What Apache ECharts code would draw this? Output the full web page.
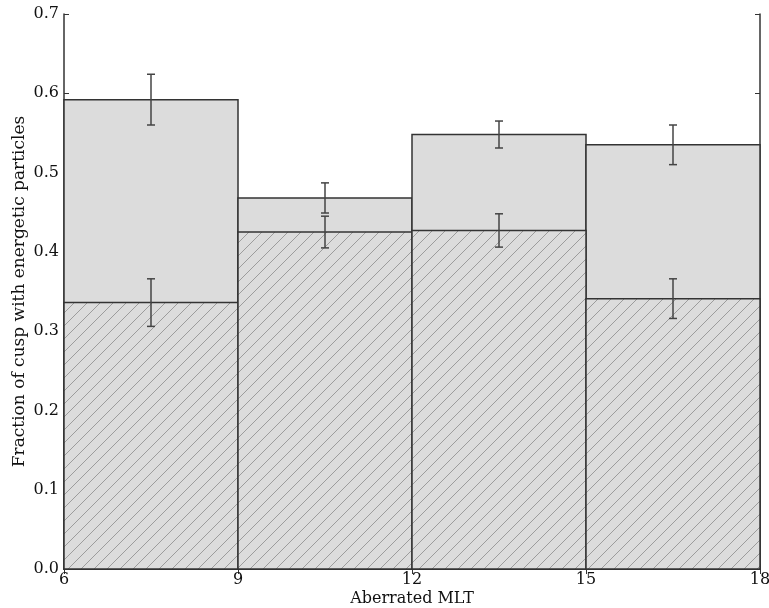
<!DOCTYPE html>
<html>
<head>
<meta charset="utf-8">
<script src="https://cdn.jsdelivr.net/npm/echarts@6/dist/echarts.min.js"></script>
<style>
html,body{margin:0;padding:0;background:#fff;}
#chart{width:769px;height:608px;}
</style>
</head>
<body>
<div id="chart"></div>
<script>
// Data
const binEdges = [6, 9, 12, 15, 18];
const binCenters = [7.5, 10.5, 13.5, 16.5];
const totalFrac = [0.592, 0.468, 0.548, 0.535];
const totalErr = [0.032, 0.019, 0.017, 0.025];
const energeticFrac = [0.336, 0.425, 0.427, 0.341];
const energeticErr = [0.030, 0.020, 0.021, 0.025];
const xTicks = [6, 9, 12, 15, 18];
const yTicks = [0.0, 0.1, 0.2, 0.3, 0.4, 0.5, 0.6, 0.7];

const FONT = '"DejaVu Serif", "Liberation Serif", serif';
const EDGE = '#333333';
const FILL = '#dcdcdc';
const TXT = '#111';

// hatch pattern
const T = 13;
const pc = document.createElement('canvas');
pc.width = T; pc.height = T;
const g = pc.getContext('2d');
g.fillStyle = FILL; g.fillRect(0, 0, T, T);
g.strokeStyle = '#9c9c9c'; g.lineWidth = 1;
g.beginPath();
g.moveTo(-1, T + 1); g.lineTo(T + 1, -1);
g.moveTo(-1, 1); g.lineTo(1, -1);
g.moveTo(T - 1, T + 1); g.lineTo(T + 1, T - 1);
g.stroke();

const totalData = totalFrac.map((v, i) => [binEdges[i], binEdges[i + 1], v]);
const energeticData = energeticFrac.map((v, i) => [binEdges[i], binEdges[i + 1], v]);
const totalErrData = totalFrac.map((v, i) => [binCenters[i], v - totalErr[i], v + totalErr[i]]);
const energeticErrData = energeticFrac.map((v, i) => [binCenters[i], v - energeticErr[i], v + energeticErr[i]]);

function barRender(fill) {
  return function (params, api) {
    const p0 = api.coord([api.value(0), api.value(2)]);
    const p1 = api.coord([api.value(1), 0]);
    return {
      type: 'rect',
      shape: { x: p0[0], y: p0[1], width: p1[0] - p0[0], height: p1[1] - p0[1] },
      style: { fill: fill, stroke: EDGE, lineWidth: 1.5 }
    };
  };
}
function errRender(params, api) {
  const lo = api.coord([api.value(0), api.value(1)]);
  const hi = api.coord([api.value(0), api.value(2)]);
  const cw = 4;
  const st = { stroke: '#444', lineWidth: 1.5, fill: null };
  return {
    type: 'group',
    children: [
      { type: 'line', shape: { x1: lo[0], y1: lo[1], x2: hi[0], y2: hi[1] }, style: st },
      { type: 'line', shape: { x1: lo[0] - cw, y1: lo[1], x2: lo[0] + cw, y2: lo[1] }, style: st },
      { type: 'line', shape: { x1: hi[0] - cw, y1: hi[1], x2: hi[0] + cw, y2: hi[1] }, style: st }
    ]
  };
}

const axisLine = { show: true, lineStyle: { color: EDGE, width: 1.5 } };
const tickIn = { show: true, inside: true, length: 5, lineStyle: { color: EDGE, width: 1 } };

const chart = echarts.init(document.getElementById('chart'));
chart.setOption({
  animation: false,
  grid: { left: 64, right: 9, top: 14, bottom: 39, containLabel: false, outerBoundsMode: 'none' },
  xAxis: [{
    type: 'value', min: xTicks[0], max: xTicks[xTicks.length - 1], interval: 3,
    axisLine: axisLine, axisTick: tickIn, splitLine: { show: false },
    axisLabel: { color: TXT, fontFamily: FONT, fontSize: 16, margin: 3 },
    name: 'Aberrated MLT', nameLocation: 'middle', nameGap: 22, nameMoveOverlap: false,
    nameTextStyle: { color: TXT, fontFamily: FONT, fontSize: 16 }
  }, {
    type: 'value', position: 'top', min: 6, max: 18, interval: 3,
    axisLine: axisLine, axisTick: tickIn, axisLabel: { show: false }, splitLine: { show: false }
  }],
  yAxis: [{
    type: 'value', min: yTicks[0], max: yTicks[yTicks.length - 1], interval: 0.1,
    axisLine: axisLine, axisTick: tickIn, splitLine: { show: false },
    axisLabel: { color: TXT, fontFamily: FONT, fontSize: 16, margin: 5, formatter: v => v.toFixed(1) },
    name: 'Fraction of cusp with energetic particles', nameLocation: 'middle', nameGap: 36, nameMoveOverlap: false,
    nameTextStyle: { color: TXT, fontFamily: FONT, fontSize: 17 }
  }, {
    type: 'value', position: 'right', min: 0, max: 0.7, interval: 0.1,
    axisLine: axisLine, axisTick: tickIn, axisLabel: { show: false }, splitLine: { show: false }
  }],
  series: [
    { type: 'custom', renderItem: barRender(FILL), data: totalData, z: 2 },
    { type: 'custom', renderItem: barRender({ image: pc, repeat: 'repeat' }), data: energeticData, z: 3 },
    { type: 'custom', renderItem: errRender, data: totalErrData, z: 4 },
    { type: 'custom', renderItem: errRender, data: energeticErrData, z: 4 }
  ]
});
</script>
</body>
</html>
